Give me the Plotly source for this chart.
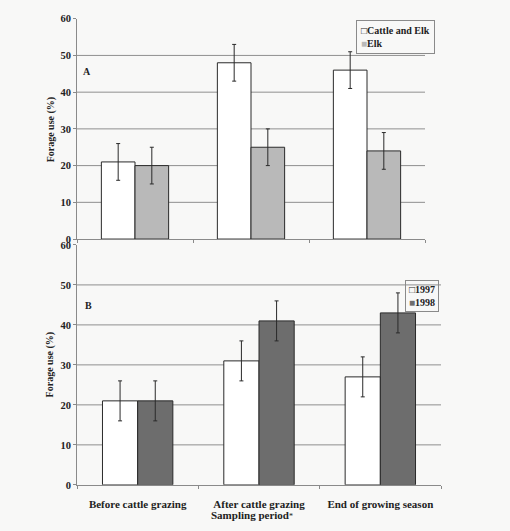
import plotly.graph_objects as go

# ---- data ----
periods = ["Before cattle grazing", "After cattle grazing", "End of growing season"]

cattle_elk = [21, 48, 46]
cattle_elk_err = [5, 5, 5]
elk = [20, 25, 24]
elk_err = [5, 5, 5]

y1997 = [21, 31, 27]
y1997_err = [5, 5, 5]
y1998 = [21, 41, 43]
y1998_err = [5, 5, 5]

y_ticks = [0, 10, 20, 30, 40, 50, 60]
grid_values = [10, 20, 30, 40, 50]

W, H = 510, 531
FONT = "Liberation Serif, Times New Roman, DejaVu Serif, serif"
EDGE = "#2a2a2a"
TXT = "#222222"
C_WHITE = "#ffffff"
C_ELK = "#b9b9b9"
C_1998 = "#6d6d6d"


def px(v):
    return v / W


def py(v):
    return 1 - v / H


fig = go.Figure()


def bar(x, y, err, name, color, xa, ya):
    return go.Bar(
        x=x, y=y, name=name, xaxis=xa, yaxis=ya, showlegend=False,
        marker=dict(color=color, line=dict(color=EDGE, width=1)),
        error_y=dict(type="data", array=err, visible=True, color=EDGE,
                     thickness=1, width=2),
    )


fig.add_trace(bar(periods, cattle_elk, cattle_elk_err, "Cattle and Elk", C_WHITE, "x", "y"))
fig.add_trace(bar(periods, elk, elk_err, "Elk", C_ELK, "x", "y"))
fig.add_trace(bar(periods, y1997, y1997_err, "1997", C_WHITE, "x2", "y2"))
fig.add_trace(bar(periods, y1998, y1998_err, "1998", C_1998, "x2", "y2"))

axis_common = dict(showline=True, linecolor="#8a8a8a", linewidth=1,
                   ticks="outside", ticklen=3, tickcolor="#8a8a8a",
                   showgrid=False, zeroline=False)
ytickfont = dict(family=FONT, size=10.5, color=TXT)
xtickfont = dict(family=FONT, size=11, color=TXT)

fig.update_layout(
    width=W, height=H,
    margin=dict(l=0, r=0, t=0, b=0),
    paper_bgcolor="#f8f8f7",
    plot_bgcolor="rgba(0,0,0,0)",
    barmode="group",
    bargap=0.42,
    bargroupgap=0,
    showlegend=False,
    font=dict(family=FONT, color=TXT),
    xaxis=dict(domain=[px(77), px(425)], anchor="y", showticklabels=False,
               tickson="boundaries", **axis_common),
    yaxis=dict(domain=[py(239), py(14)], anchor="x", range=[0, 60],
               tickvals=y_ticks, ticktext=["<b>%d</b>" % v for v in y_ticks],
               tickfont=ytickfont, **axis_common),
    xaxis2=dict(domain=[px(77), px(441)], anchor="y2",
                tickson="boundaries", tickvals=periods,
                ticktext=["<b>%s</b>" % p for p in periods],
                ticklabelstandoff=9, tickfont=xtickfont, **axis_common),
    yaxis2=dict(domain=[py(490), py(245)], anchor="x2", range=[0, 60],
                tickvals=y_ticks, ticktext=["<b>%d</b>" % v for v in y_ticks],
                tickfont=ytickfont, **axis_common),
)

# gridlines (none at 60)
shapes = []
for xr, yr in (("x domain", "y"), ("x2 domain", "y2")):
    for g in grid_values:
        shapes.append(dict(type="line", xref=xr, yref=yr, x0=0, x1=1, y0=g, y1=g,
                           line=dict(color="#8f8f8f", width=1), layer="below"))
fig.update_layout(shapes=shapes)

lab = dict(family=FONT, size=10, color=TXT)


def note(text, x, y, **kw):
    fig.add_annotation(text=text, x=px(x), y=py(y), xref="paper", yref="paper",
                       showarrow=False, font=kw.pop("font", lab),
                       xanchor=kw.pop("xanchor", "center"),
                       yanchor=kw.pop("yanchor", "middle"), **kw)


note("<b>Forage use (%)</b>", 51, 127, textangle=-90)
note("<b>Forage use (%)</b>", 50, 367, textangle=-90)
note("<b>A</b>", 87, 68)
note("<b>B</b>", 88, 307)
note("<b>Sampling period</b><span style='font-size:8px'>*</span>", 252, 521,
     font=dict(family=FONT, size=11, color=TXT))


def legend_text(names, colors):
    rows = []
    for n, c in zip(names, colors):
        if c.lower() == "#ffffff":
            sym = "<span style='color:%s'>□</span>" % EDGE
        else:
            sym = "<span style='color:%s'>■</span>" % c
        rows.append("%s<b>%s</b>" % (sym, n))
    return "<br>".join(rows)


note(legend_text(["Cattle and Elk", "Elk"], [C_WHITE, C_ELK]), 356, 15,
     xanchor="left", yanchor="top", align="left", bordercolor="#8a8a8a",
     borderwidth=1, borderpad=4)
note(legend_text(["1997", "1998"], [C_WHITE, C_1998]), 405, 281,
     xanchor="left", yanchor="top", align="left", bordercolor="#8a8a8a",
     borderwidth=1, borderpad=3)

fig.write_html("out.html")
